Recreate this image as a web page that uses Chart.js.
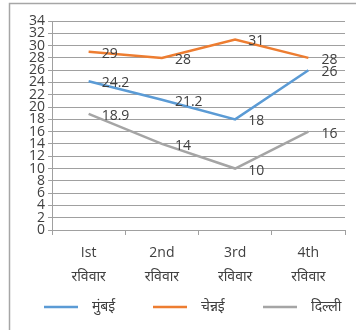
<!DOCTYPE html>
<html>
<head>
<meta charset="utf-8">
<script src="https://cdn.jsdelivr.net/npm/chart.js@4.4.1/dist/chart.umd.min.js"></script>
<style>
  html, body { margin: 0; padding: 0; background: #fff; }
  #wrap { position: relative; width: 356px; height: 330px; }
  canvas { display: block; }
</style>
</head>
<body>
<div id="wrap"><canvas id="c" width="356" height="330"></canvas></div>
<script>
// Weekly values per city
const weeks = [['Ist', 'रविवार'], ['2nd', 'रविवार'], ['3rd', 'रविवार'], ['4th', 'रविवार']];
const mumbai = [24.2, 21.2, 18, 26];
const chennai = [29, 28, 31, 28];
const delhi = [18.9, 14, 10, 16];
const seriesNames = ['मुंबई', 'चेन्नई', 'दिल्ली'];
const seriesColors = ['#5b9bd5', '#ed7d31', '#a5a5a5'];

const FONT = "'Open Sans', 'Noto Sans', 'Noto Sans Devanagari', sans-serif";
const TEXT = '#404040';

// White page with the frame lines on the left and top
const framePlugin = {
  id: 'frame',
  beforeDraw(chart) {
    const ctx = chart.ctx;
    ctx.save();
    ctx.fillStyle = '#fff';
    ctx.fillRect(0, 0, chart.width, chart.height);
    ctx.strokeStyle = '#a6a6a6';
    ctx.lineWidth = 1.5;
    ctx.beginPath();
    ctx.moveTo(9.5, chart.height);
    ctx.lineTo(9.5, 3.5);
    ctx.lineTo(chart.width, 3.5);
    ctx.stroke();
    ctx.restore();
  }
};

// Value labels beside each point
const valueLabels = {
  id: 'valueLabels',
  afterDatasetsDraw(chart) {
    const ctx = chart.ctx;
    ctx.save();
    ctx.font = '14px ' + FONT;
    ctx.fillStyle = TEXT;
    ctx.textAlign = 'left';
    ctx.textBaseline = 'middle';
    chart.data.datasets.forEach((ds, i) => {
      const meta = chart.getDatasetMeta(i);
      meta.data.forEach((pt, j) => {
        ctx.fillText(String(ds.data[j]), pt.x + 13, pt.y + 2);
      });
    });
    ctx.restore();
  }
};

// Legend row beneath the category labels
const lineLegend = {
  id: 'lineLegend',
  afterDraw(chart) {
    const ctx = chart.ctx;
    const y = 307;
    const starts = [44, 153, 263];
    ctx.save();
    ctx.font = '14px ' + FONT;
    ctx.textBaseline = 'middle';
    ctx.textAlign = 'left';
    chart.data.datasets.forEach((ds, i) => {
      const x = starts[i];
      ctx.strokeStyle = ds.borderColor;
      ctx.lineWidth = 2.5;
      ctx.beginPath();
      ctx.moveTo(x, y);
      ctx.lineTo(x + 34, y);
      ctx.stroke();
      ctx.fillStyle = TEXT;
      ctx.fillText(ds.label, x + 48, y);
    });
    ctx.restore();
  }
};

const mk = (label, data, color) => ({
  label, data,
  borderColor: color,
  backgroundColor: color,
  borderWidth: 2.5,
  pointRadius: 0,
  tension: 0,
  fill: false
});

new Chart(document.getElementById('c'), {
  type: 'line',
  data: {
    labels: weeks,
    datasets: [
      mk(seriesNames[0], mumbai, seriesColors[0]),
      mk(seriesNames[1], chennai, seriesColors[1]),
      mk(seriesNames[2], delhi, seriesColors[2])
    ]
  },
  options: {
    responsive: false,
    animation: false,
    devicePixelRatio: 1,
    layout: { padding: { left: 10, right: 11, top: 21, bottom: 0 } },
    plugins: { legend: { display: false }, tooltip: { enabled: false } },
    scales: {
      x: {
        offset: true,
        grid: { offset: true, drawOnChartArea: false, color: '#a0a0a0', tickLength: 5 },
        border: { color: '#a0a0a0' },
        ticks: { color: TEXT, font: { size: 14, family: FONT, lineHeight: 1.7 }, padding: 6, maxRotation: 0 },
        afterFit(s) { s.height = 100; }
      },
      y: {
        min: 0, max: 34,
        ticks: { stepSize: 2, autoSkip: false, color: TEXT, font: { size: 14, family: FONT, lineHeight: 1 }, padding: 3 },
        grid: { color: '#a0a0a0', tickLength: 4 },
        border: { color: '#a0a0a0' },
        afterFit(s) { s.width = 42; }
      }
    }
  },
  plugins: [framePlugin, valueLabels, lineLegend]
});
</script>
</body>
</html>
